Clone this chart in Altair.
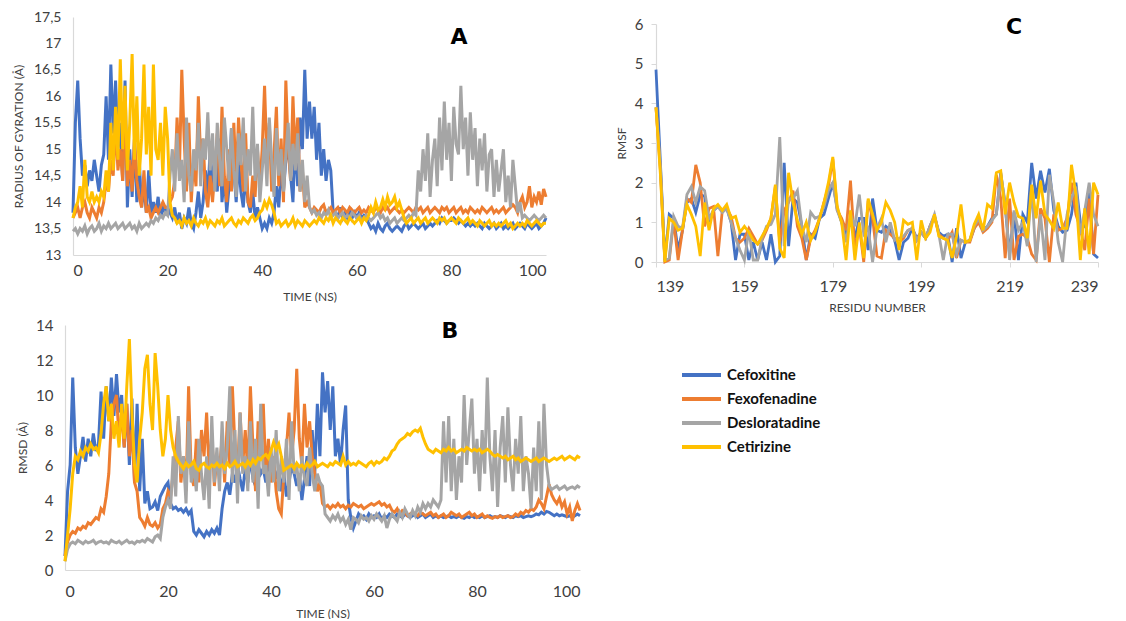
import altair as alt
import pandas as pd

DRUGS = ["Cefoxitine", "Fexofenadine", "Desloratadine", "Cetirizine"]
COLORS = ["#4472C4", "#ED7D31", "#A5A5A5", "#FFC000"]

# ---------------- Panel A : radius of gyration (0.5 ns step, 0..100 ns)
A_CEF = [13.8, 15.5, 16.3, 15.2, 14.5, 14.7, 14.3, 14.6, 14.4, 14.8, 14.5, 14.2, 14.7, 14.9, 16.0, 14.8, 16.6, 15.3, 16.3, 15.0,
         15.5, 14.4, 16.3, 13.9, 15.0, 14.1, 15.2, 14.0, 14.8, 13.9, 14.3, 13.8, 14.6, 13.8, 14.0, 13.8, 14.1, 13.7, 13.9, 13.8,
         13.9, 13.8, 13.7, 13.9, 13.6, 13.8, 13.5, 13.7, 13.6, 13.9, 13.6, 13.5, 13.8, 14.2, 13.7, 14.0, 14.6, 14.1, 15.0, 14.3,
         14.8, 14.2, 15.2, 14.0, 14.5, 13.8, 14.3, 15.4, 14.6, 14.0, 14.8, 14.2, 13.9, 14.5, 14.0, 13.8, 14.2, 13.7, 13.9, 13.7,
         13.5, 13.6, 13.5, 13.7, 13.6, 13.8, 14.3, 13.9, 14.6, 14.2, 14.8, 15.0, 14.5, 14.0, 15.2, 14.3, 15.6, 15.0, 16.5, 15.2,
         15.9, 15.2, 15.8, 14.8, 15.5, 14.5, 15.0, 14.4, 14.8, 14.6, 13.8, 13.8, 13.7, 13.9, 13.7, 13.8, 13.7, 13.9, 13.7, 13.8,
         13.7, 13.8, 13.7, 13.75, 13.7, 13.6, 13.5, 13.55, 13.45, 13.6, 13.5, 13.45, 13.55, 13.6, 13.5, 13.45, 13.5, 13.55, 13.5, 13.45,
         13.55, 13.6, 13.5, 13.55, 13.6, 13.55, 13.5, 13.55, 13.6, 13.5, 13.55, 13.6, 13.55, 13.6, 13.65, 13.6, 13.7, 13.65, 13.6, 13.65,
         13.65, 13.7, 13.65, 13.6, 13.65, 13.6, 13.55, 13.6, 13.55, 13.6, 13.55, 13.6, 13.55, 13.5, 13.6, 13.55, 13.5, 13.55, 13.6, 13.5,
         13.55, 13.6, 13.5, 13.55, 13.5, 13.55, 13.6, 13.5, 13.55, 13.6, 13.55, 13.5, 13.6, 13.55, 13.5, 13.55, 13.6, 13.5, 13.55, 13.6,
         13.7]
A_FEX = [13.7, 13.8, 13.9, 13.7, 13.9, 14.0, 13.8, 13.7, 13.9, 13.8, 13.7, 13.9, 13.8, 14.0, 14.4, 14.2, 14.8, 14.5, 15.5, 14.6,
         15.0, 14.4, 15.8, 14.3, 14.8, 14.2, 15.2, 14.4, 14.1, 13.9, 14.6, 13.8, 13.9, 13.7, 13.8, 13.9, 13.8, 13.9, 14.0, 13.9,
         13.9, 14.0, 14.1, 14.4, 15.6, 14.6, 16.5, 15.2, 14.2, 15.5, 14.0, 14.8, 14.3, 16.0, 14.8, 15.2, 14.2, 13.9, 14.5, 14.0,
         14.6, 15.3, 14.3, 15.8, 14.5, 14.0, 15.0, 14.2, 15.5, 14.4, 15.6, 14.8, 14.2, 15.3, 14.0, 13.9, 14.5, 14.1, 15.0, 14.3,
         15.0, 16.2, 14.8, 15.5, 14.2, 14.9, 15.8, 14.3, 15.2, 14.0, 16.3, 15.0, 14.4, 16.0, 14.8, 15.6, 14.2, 14.6, 13.9, 14.0,
         13.9, 13.8, 13.9, 13.85, 13.8, 13.9, 13.95, 13.8, 13.85, 13.9, 13.8, 13.85, 13.9, 13.8, 13.9, 13.85, 13.8, 13.9, 13.85, 13.8,
         13.85, 13.9, 13.8, 13.85, 13.8, 13.9, 13.85, 13.8, 13.9, 13.85, 13.8, 13.9, 13.85, 13.9, 13.8, 13.85, 13.9, 13.85, 13.8, 13.85,
         13.8, 13.85, 13.9, 13.85, 13.8, 13.9, 13.85, 13.9, 13.8, 13.85, 13.9, 13.8, 13.85, 13.9, 13.85, 13.8, 13.9, 13.85, 13.9, 13.8,
         13.85, 13.9, 13.8, 13.85, 13.9, 13.8, 13.85, 13.8, 13.9, 13.85, 13.8, 13.85, 13.8, 13.9, 13.85, 13.8, 13.85, 13.9, 13.8, 13.85,
         13.8, 13.85, 13.9, 13.8, 13.85, 13.9, 13.95, 13.9, 13.8, 14.0, 14.1, 13.9, 14.0, 14.3, 13.9, 14.1, 14.0, 14.2, 13.95, 14.25,
         14.1]
A_DES = [13.45, 13.5, 13.4, 13.5, 13.45, 13.55, 13.4, 13.5, 13.55, 13.45, 13.5, 13.6, 13.45, 13.55, 13.5, 13.6, 13.5, 13.55, 13.6, 13.5,
         13.55, 13.6, 13.5, 13.55, 13.6, 13.5, 13.55, 13.45, 13.6, 13.5, 13.55, 13.6, 13.55, 13.65, 13.6, 13.7, 13.65, 13.75, 13.7, 13.8,
         13.75, 14.5, 15.0, 14.2, 15.3, 14.4, 14.8, 14.0, 15.6, 14.5, 14.2, 15.0, 14.6, 15.5, 14.3, 15.2, 14.8, 15.7, 14.6, 15.3,
         14.2, 15.5, 14.8, 14.3, 15.6, 15.0, 14.4, 15.4, 14.6, 14.1, 15.3, 14.7, 15.6, 14.2, 15.0, 14.5, 15.8, 14.4, 15.1, 14.0,
         14.6, 15.2, 14.3, 15.6, 14.8, 14.1, 15.4, 14.5, 15.0, 14.2, 14.9, 15.5, 14.4, 15.1, 14.6, 15.3, 14.2, 14.8, 14.0, 14.5,
         13.9, 13.8, 13.85, 13.75, 13.8, 13.7, 13.8, 13.75, 13.85, 13.7, 13.75, 13.8, 13.7, 13.75, 13.8, 13.7, 13.75, 13.7, 13.8, 13.75,
         13.7, 13.75, 13.65, 13.7, 13.75, 13.7, 13.65, 13.7, 13.75, 13.8, 13.7, 13.75, 13.65, 13.7, 13.6, 13.65, 13.7, 13.6, 13.65, 13.7,
         13.65, 13.7, 13.75, 13.7, 13.8, 13.75, 14.6, 14.2, 15.0, 14.4, 15.3, 14.1, 14.8, 15.2, 14.3, 15.6, 14.6, 15.9, 14.8, 15.5,
         14.4, 15.8, 15.1, 14.9, 16.2, 15.0, 15.6, 14.5, 15.7, 14.8, 15.4, 14.3, 15.2, 14.6, 15.3, 14.2, 14.9, 15.0, 14.1, 14.8,
         14.2, 14.6, 15.0, 14.0, 14.5, 13.9, 14.8, 14.3, 13.8, 14.0, 13.7, 13.75, 13.7, 13.65, 13.7, 13.75, 13.7, 13.65, 13.7, 13.75,
         13.7]
A_CET = [13.7, 13.9, 14.0, 14.3, 13.9, 14.8, 14.1, 14.0, 14.2, 14.0, 14.1, 14.0, 14.2, 14.1, 14.6, 14.2, 15.5, 14.6, 15.8, 14.8,
         16.7, 15.0, 16.2, 14.6, 15.5, 16.8, 14.8, 16.0, 14.5, 15.2, 16.6, 14.9, 15.8, 14.5, 16.6, 15.0, 14.8, 15.5, 14.5, 15.8,
         15.2, 14.0, 13.75, 13.7, 13.6, 13.65, 13.55, 13.7, 13.6, 13.65, 13.55, 13.7, 13.6, 13.55, 13.65, 13.6, 13.7, 13.55, 13.65, 13.6,
         13.55, 13.65, 13.6, 13.7, 13.55, 13.6, 13.65, 13.7, 13.6, 13.55, 13.65, 13.6, 13.7, 13.65, 13.6, 13.7, 13.75, 13.65, 13.7, 13.8,
         13.85, 14.0, 13.9, 14.05, 13.95, 13.8, 13.6, 13.65, 13.55, 13.6, 13.65, 13.55, 13.6, 13.7, 13.55, 13.65, 13.6, 13.55, 13.65, 13.6,
         13.55, 13.6, 13.65, 13.6, 13.7, 13.65, 13.6, 13.7, 13.65, 13.75, 13.6, 13.7, 13.65, 13.6, 13.7, 13.65, 13.6, 13.7, 13.65, 13.6,
         13.65, 13.7, 13.6, 13.7, 13.65, 13.75, 13.9, 13.8, 14.0, 13.85, 13.9, 14.05, 13.9, 14.1, 13.95, 14.0, 14.1, 13.9, 14.0, 13.85,
         13.7, 13.6, 13.65, 13.7, 13.6, 13.65, 13.7, 13.6, 13.65, 13.7, 13.6, 13.65, 13.7, 13.65, 13.6, 13.7, 13.65, 13.7, 13.6, 13.65,
         13.7, 13.65, 13.6, 13.7, 13.65, 13.6, 13.65, 13.7, 13.6, 13.65, 13.6, 13.55, 13.65, 13.6, 13.55, 13.6, 13.65, 13.55, 13.6, 13.55,
         13.6, 13.55, 13.6, 13.65, 13.55, 13.6, 13.5, 13.55, 13.6, 13.55, 13.6, 13.55, 13.65, 13.6, 13.55, 13.6, 13.65, 13.6, 13.55, 13.6,
         13.6]

# ---------------- Panel B : RMSD (0.5 ns step, 0..100 ns)
B_CEF = [0.8, 4.5, 6.0, 11.0, 7.0, 5.5, 6.5, 7.6, 6.2, 7.5, 6.5, 7.8, 6.8, 7.2, 10.2, 7.5, 10.5, 8.5, 11.0, 8.8,
         11.2, 9.0, 10.0, 7.0, 9.5, 6.0, 9.8, 5.0, 9.5, 4.5, 7.5, 3.8, 4.5, 3.5, 3.6, 3.9, 3.4, 4.2, 4.5, 4.8,
         5.0, 3.8, 3.5, 3.6, 3.4, 3.5, 3.3, 3.5, 3.2, 3.4, 2.2, 2.0, 2.3, 2.1, 1.9, 2.2, 2.0, 2.3, 2.1, 2.4,
         2.0, 3.5, 4.5, 5.0, 4.3, 5.5, 5.0, 6.0, 5.2, 4.5, 5.8, 5.0, 6.5, 5.2, 4.8, 6.0, 5.5, 5.8, 5.0, 6.2,
         5.5, 6.0, 5.2, 5.8, 4.5, 5.5, 4.2, 5.0, 6.0, 5.5, 4.8, 5.5, 4.0, 5.2, 6.5, 4.8, 8.0, 5.5, 9.5, 6.5,
         11.3, 9.0, 10.8, 8.0, 10.5, 6.5, 7.5, 6.0, 8.0, 9.4, 4.0, 3.0, 2.4, 2.8, 3.2, 3.0, 3.1, 2.9, 3.2, 3.0,
         3.1, 3.0, 3.2, 2.9, 3.1, 3.0, 3.2, 3.1, 3.0, 3.2, 3.1, 3.0, 3.2, 3.1, 3.0, 3.1, 3.2, 3.0, 3.1, 3.2,
         3.0, 3.1, 3.2, 3.0, 3.1, 3.0, 3.1, 3.0, 3.05, 3.1, 3.0, 3.05, 3.0, 3.1, 3.0, 2.95, 3.05, 3.0, 3.1, 3.0,
         3.05, 3.0, 3.1, 3.0, 3.05, 3.1, 3.0, 3.05, 3.0, 3.1, 3.05, 3.0, 3.1, 3.05, 3.0, 3.1, 3.05, 3.1, 3.0, 3.05,
         3.1, 3.05, 3.1, 3.2, 3.15, 3.3, 3.2, 3.35, 3.3, 3.2, 3.1, 3.2, 3.1, 3.15, 3.1, 3.05, 3.1, 3.0, 3.1, 3.2,
         3.1]
B_FEX = [0.8, 1.6, 2.0, 2.2, 2.1, 2.4, 2.3, 2.5, 2.4, 2.7, 2.6, 2.8, 3.0, 2.9, 3.5, 3.3, 4.2, 5.5, 8.5, 9.5,
         10.0, 7.5, 9.0, 7.0, 9.5, 6.5, 8.0, 5.0, 4.5, 3.0, 2.8, 2.5, 3.0, 2.6, 2.5, 2.7, 2.4, 2.6, 3.5, 3.8,
         4.5, 4.2, 5.5, 7.0, 8.5, 5.0, 6.5, 4.5, 10.5, 5.5, 4.8, 7.5, 5.0, 8.0, 6.5, 9.0, 5.5, 7.8, 4.8, 6.5,
         5.8, 7.5, 5.0, 8.5, 6.0, 10.5, 7.0, 5.5, 9.0, 6.0, 8.0, 5.5, 10.5, 7.0, 4.5, 8.5, 6.5, 9.5, 5.5, 7.5,
         5.0, 6.5, 4.5, 3.5, 3.2, 5.5, 7.0, 9.0, 6.5, 8.0, 11.5, 7.5, 6.0, 9.5, 7.0, 8.5, 6.5, 5.5, 4.5, 5.0,
         3.8, 3.6, 3.7, 3.5, 3.7, 3.6, 3.8, 3.6, 3.7, 3.5, 3.7, 3.6, 3.8, 3.7, 3.6, 3.7, 3.5, 3.6, 3.7, 3.8,
         3.7, 3.8, 3.9, 3.7, 3.8, 3.6, 3.7, 3.4, 3.3, 3.5, 3.2, 3.4, 3.3, 3.1, 3.2, 3.3, 3.2, 3.1, 3.3, 3.2,
         3.1, 3.2, 3.3, 3.1, 3.2, 3.0, 3.1, 3.2, 3.0, 3.1, 3.3, 3.2, 3.1, 3.2, 3.0, 3.1, 3.2, 3.3, 3.1, 3.2,
         3.0, 3.1, 3.2, 3.0, 3.1, 3.0, 2.95, 3.05, 3.0, 3.1, 3.0, 3.05, 3.1, 3.0, 3.05, 3.2, 3.1, 3.3, 3.2, 3.4,
         3.3, 3.5, 3.4, 3.6, 4.0, 3.8, 3.5, 4.2, 4.9, 4.3, 4.0, 3.8, 4.1, 3.6, 3.9, 3.2, 3.6, 2.8, 3.4, 3.8,
         3.4]
B_DES = [0.5, 1.2, 1.5, 1.6, 1.5, 1.7, 1.6, 1.5, 1.65, 1.55, 1.6, 1.7, 1.5, 1.6, 1.65, 1.55, 1.6, 1.5, 1.7, 1.6,
         1.55, 1.65, 1.5, 1.6, 1.7, 1.55, 1.6, 1.5, 1.65, 1.6, 1.7, 1.6, 1.8, 1.7, 1.6, 1.9, 2.0, 1.8, 3.0, 3.6,
         4.0, 3.5, 6.5, 4.2, 8.8, 5.5, 6.5, 3.8, 8.5, 5.0, 6.0, 4.5, 7.5, 5.5, 4.0, 6.5, 3.5, 8.8, 5.0, 7.0,
         4.5, 8.5, 5.5, 7.0, 10.5, 5.0, 8.0, 3.8, 9.0, 5.5, 6.5, 4.5, 8.5, 5.0, 7.5, 3.5, 9.5, 5.5, 6.0, 4.2,
         7.0, 5.0, 8.0, 4.5, 6.5, 5.0, 7.5, 4.0, 8.5, 5.5, 6.0, 4.5, 6.5, 5.2, 4.8, 7.0, 5.5, 4.5, 5.5, 5.0,
         4.8, 3.2, 3.0, 2.8, 3.1, 2.9, 3.2, 2.8, 3.0, 2.6, 2.9, 2.3, 3.0, 2.9, 2.7, 3.1, 2.9, 3.0, 2.8, 3.1,
         2.9, 3.2, 3.0, 2.8, 3.1, 2.4, 2.9, 3.2, 3.0, 2.8, 3.3, 3.0, 3.5, 3.2, 3.0, 3.4, 3.1, 3.6, 3.3, 3.8,
         3.5, 3.8, 3.6, 4.0, 3.8, 3.6, 4.0, 8.5, 5.0, 8.8, 4.5, 7.5, 4.0, 6.5, 5.0, 10.0, 6.0, 8.0, 9.8, 5.5,
         7.5, 4.5, 8.0, 5.5, 11.0, 6.5, 4.5, 8.0, 3.6, 7.0, 8.8, 5.0, 9.3, 6.0, 4.5, 7.5, 5.5, 8.8, 4.5, 6.5,
         5.5, 3.5, 7.0, 4.5, 8.5, 4.0, 9.5, 6.0, 4.8, 4.6, 4.7, 4.8, 4.6, 4.7, 4.8, 4.6, 4.7, 4.75, 4.65, 4.8,
         4.7]
B_CET = [0.5, 2.0, 3.5, 5.5, 6.5, 6.3, 6.8, 6.5, 7.0, 6.8, 7.2, 6.9, 7.0, 6.7, 7.8, 9.5, 10.5, 8.5, 9.5, 7.5,
         8.5, 7.0, 9.5, 7.5, 10.5, 13.2, 9.0, 6.0, 5.0, 7.5, 9.0, 11.5, 12.3, 9.5, 8.0, 12.4, 10.5, 8.0, 6.5, 7.5,
         10.0, 8.0, 7.0, 6.5, 6.2, 6.0, 5.8, 6.1, 5.9, 6.0, 6.2, 5.8, 5.7, 6.0, 6.1, 5.9, 5.8, 6.0, 5.9, 6.1,
         5.9, 6.0, 5.8, 6.1, 5.9, 6.0, 6.2, 5.9, 6.0, 6.1, 5.9, 6.2, 6.0, 6.3, 6.1, 6.4, 6.3, 6.5, 6.6, 6.4,
         6.8, 7.3, 6.9, 7.2, 6.5, 5.7, 5.8, 5.9, 6.0, 5.8, 6.1, 5.9, 6.0, 5.8, 6.1, 5.9, 6.0, 6.2, 5.9, 6.0,
         6.1, 6.0, 5.9, 6.1, 6.0, 6.2, 6.1, 6.0, 6.5, 6.0, 6.2, 6.0, 6.1, 6.0, 6.2, 6.1, 6.0, 5.9, 6.1, 6.2,
         6.0, 6.2, 6.1, 6.2, 6.4, 6.3, 6.5, 6.8, 6.9, 7.2, 7.4, 7.5, 7.6, 7.8, 7.7, 7.9, 8.0, 7.9, 8.1, 7.6,
         7.2, 6.9, 6.8, 6.7, 6.9, 6.8, 6.7, 6.9, 6.8, 7.0, 6.8, 6.9, 6.7, 6.8, 6.9, 6.8, 7.0, 6.9, 6.8, 6.9,
         6.8, 6.9, 6.7, 6.8, 6.9, 6.8, 6.6, 6.5, 6.6, 6.5, 6.4, 6.5, 6.3, 6.4, 6.5, 6.3, 6.4, 6.2, 6.3, 6.4,
         6.3, 6.2, 6.3, 6.4, 6.2, 6.3, 6.4, 6.3, 6.2, 6.3, 6.4, 6.3, 6.4, 6.5, 6.3, 6.4, 6.5, 6.4, 6.3, 6.5,
         6.4]

# ---------------- Panel C : RMSF per residue 139..239
RESIDUES = list(range(139, 240))
C_CEF = [4.85, 2.5, 0.05, 1.2, 1.1, 0.3, 0.8, 1.5, 1.6, 1.25, 1.7, 1.65, 1.0, 1.3, 1.4, 1.3, 1.35, 1.0, 0.05, 0.7,
         0.7, 0.05, 0.5, 0.05, 0.5, 0.05, 0.7, 0.0, 0.15, 2.5, 0.4, 1.6, 1.5, 0.9, 0.05, 0.7, 0.6, 1.1, 1.2, 1.6,
         2.0, 1.35, 1.0, 0.7, 1.1, 0.6, 1.1, 1.1, 0.3, 1.6, 0.8, 0.75, 0.9, 0.8, 0.55, 0.05, 0.5, 0.6, 0.85, 0.6,
         0.75, 0.6, 0.9, 1.15, 0.75, 0.65, 0.7, 0.0, 0.85, 0.1, 0.5, 0.55, 0.85, 1.1, 0.8, 0.9, 1.1, 1.2, 2.25, 1.4,
         0.2, 1.25, 0.05, 1.2, 1.0, 2.5, 1.6, 2.3, 1.75, 2.35, 1.3, 0.9, 0.75, 0.8, 1.2, 2.0, 1.0, 0.9, 1.8, 0.2,
         0.1]
C_FEX = [3.9, 2.3, 0.0, 0.05, 1.05, 0.05, 0.8, 1.6, 1.5, 2.45, 2.0, 0.9, 1.35, 1.4, 0.15, 1.3, 1.35, 1.15, 0.6, 0.5,
         0.6, 0.85, 0.65, 0.45, 0.55, 0.8, 1.1, 1.9, 0.5, 1.3, 1.5, 1.8, 0.9, 0.6, 0.05, 0.6, 0.8, 1.1, 1.5, 1.9,
         2.6, 1.3, 1.1, 0.8, 2.05, 0.3, 0.9, 0.0, 1.55, 1.1, 0.15, 0.1, 0.8, 0.7, 0.6, 0.5, 0.6, 0.8, 0.85, 0.55,
         0.75, 0.6, 0.9, 1.15, 0.7, 0.6, 0.55, 0.75, 0.1, 0.55, 0.5, 0.5, 0.85, 1.0, 0.75, 0.85, 1.0, 2.2, 1.6, 0.1,
         1.6, 0.05, 0.65, 0.7, 0.6, 0.2, 0.05, 1.35, 1.1, 0.0, 1.2, 0.8, 0.85, 1.1, 2.0, 1.2, 0.85, 0.3, 1.6, 0.2,
         1.7]
C_DES = [3.9, 2.4, 0.05, 0.1, 1.15, 0.9, 0.85, 1.7, 1.9, 1.5, 1.9, 1.8, 1.1, 1.3, 1.4, 1.25, 1.35, 1.0, 0.6, 0.3,
         0.05, 0.8, 0.05, 0.05, 0.6, 0.9, 0.95, 1.2, 3.15, 0.4, 1.6, 1.6, 1.8, 0.9, 0.5, 1.25, 1.1, 1.15, 1.4, 1.8,
         2.0, 1.3, 1.0, 0.5, 1.2, 0.9, 1.7, 0.7, 0.85, 0.0, 0.85, 1.1, 0.5, 1.0, 0.55, 0.6, 0.65, 0.8, 0.85, 0.55,
         0.75, 0.6, 0.9, 1.2, 0.7, 0.05, 0.7, 0.7, 0.2, 0.55, 0.5, 0.55, 0.9, 1.1, 0.8, 0.9, 1.05, 1.2, 2.2, 1.5,
         0.05, 1.3, 0.8, 1.0, 0.4, 1.9, 0.0, 1.2, 0.05, 2.2, 1.5, 0.5, 0.0, 1.2, 1.6, 1.9, 0.7, 1.3, 2.0, 1.2,
         0.9]
C_CET = [3.9, 2.2, 0.0, 1.1, 1.0, 0.8, 0.85, 1.45, 1.2, 0.9, 0.15, 1.5, 0.8, 1.35, 1.45, 1.3, 1.45, 1.1, 1.15, 0.75,
         0.9, 0.75, 0.55, 0.45, 0.65, 0.85, 1.1, 1.95, 0.35, 0.1, 2.25, 1.5, 1.05, 0.7, 1.0, 0.55, 0.75, 1.1, 1.5, 2.0,
         2.65, 1.4, 1.0, 0.05, 1.3, 0.05, 1.0, 0.1, 1.6, 1.2, 0.8, 1.0, 1.5, 1.3, 1.0, 0.3, 1.05, 0.95, 1.0, 0.05,
         1.05, 0.6, 0.75, 1.2, 0.65, 0.6, 0.55, 0.1, 0.65, 1.45, 0.5, 0.55, 0.95, 1.2, 0.8, 1.45, 1.35, 2.25, 2.3, 1.2,
         2.0, 1.5, 1.15, 1.1, 0.6, 1.95, 1.1, 2.05, 1.2, 1.05, 0.85, 1.5, 0.85, 0.85, 2.45, 1.7, 0.05, 1.35, 0.2, 2.0,
         1.7]

A_TICKS = [13, 13.5, 14, 14.5, 15, 15.5, 16, 16.5, 17, 17.5]
B_TICKS = [0, 2, 4, 6, 8, 10, 12, 14]
C_TICKS = [0, 1, 2, 3, 4, 5, 6]
TIME_TICKS = [0, 20, 40, 60, 80, 100]
RES_TICKS = [139, 159, 179, 199, 219, 239]


def time_frame(series):
    rows = []
    for k, (drug, vals) in enumerate(zip(DRUGS, series)):
        for i, v in enumerate(vals):
            rows.append({"x": i * 0.5, "v": v, "drug": drug, "k": k})
    return pd.DataFrame(rows)


def res_frame(series):
    rows = []
    for k, (drug, vals) in enumerate(zip(DRUGS, series)):
        for r, v in zip(RESIDUES, vals):
            rows.append({"x": r, "v": v, "drug": drug, "k": k})
    return pd.DataFrame(rows)


COLOR = alt.Color("drug:N", scale=alt.Scale(domain=DRUGS, range=COLORS), legend=None)


def panel_label(text, px, py):
    return alt.Chart(pd.DataFrame({"t": [text]})).mark_text(
        font="DejaVu Sans", fontWeight="bold", fontSize=22, color="#000000"
    ).encode(text="t:N", x=alt.value(px), y=alt.value(py))


# ---------- A  (plot area starts 8px left of the drawn axis so that B can sit further left)
dfA = time_frame([A_CEF, A_FEX, A_DES, A_CET])
lineA = alt.Chart(dfA).mark_line(strokeWidth=3).encode(
    x=alt.X("x:Q", scale=alt.Scale(domain=[0, 100], nice=False, range=[8, 481]),
            axis=alt.Axis(values=TIME_TICKS, title="TIME (NS)", labelFontSize=16,
                          labelPadding=7, titlePadding=13, ticks=False)),
    y=alt.Y("v:Q", scale=alt.Scale(domain=[13, 17.5], nice=False, zero=False),
            axis=alt.Axis(values=A_TICKS, title="RADIUS OF GYRATION (Å)",
                          labelExpr="replace(toString(datum.value), '.', ',')",
                          labelFontSize=14, labelPadding=12, titlePadding=8, ticks=False,
                          offset=-8)),
    color=COLOR,
    detail="k:O",
)
chartA = alt.layer(lineA, panel_label("A", 394, 20)).properties(width=481, height=238)

# ---------- B
dfB = time_frame([B_CEF, B_FEX, B_DES, B_CET])
lineB = alt.Chart(dfB).mark_line(strokeWidth=3).encode(
    x=alt.X("x:Q", scale=alt.Scale(domain=[0, 100], nice=False),
            axis=alt.Axis(values=TIME_TICKS, title="TIME (NS)", labelFontSize=16,
                          labelPadding=13, titlePadding=9, ticks=False)),
    y=alt.Y("v:Q", scale=alt.Scale(domain=[0, 14], nice=False),
            axis=alt.Axis(values=B_TICKS, title="RMSD (Å)", labelFontSize=15,
                          labelPadding=12, titlePadding=6, ticks=False)),
    color=COLOR,
    detail="k:O",
)
chartB = alt.layer(lineB, panel_label("B", 385, 6)).properties(width=515, height=245)

# ---------- C  (data range starts 7px below the plot top)
dfC = res_frame([C_CEF, C_FEX, C_DES, C_CET])
lineC = alt.Chart(dfC).mark_line(strokeWidth=2.8).encode(
    x=alt.X("x:Q", scale=alt.Scale(domain=[139, 239], nice=False, zero=False),
            axis=alt.Axis(values=RES_TICKS, title="RESIDU NUMBER", labelFontSize=16,
                          labelPadding=11, titlePadding=8, ticks=True, tickSize=5,
                          tickColor="#D9D9D9")),
    y=alt.Y("v:Q", scale=alt.Scale(domain=[0, 6], nice=False, range=[245, 7]),
            axis=alt.Axis(values=C_TICKS, title="RMSF", labelFontSize=15,
                          labelPadding=8, titlePadding=6, ticks=True, tickSize=5,
                          tickColor="#D9D9D9")),
    color=COLOR,
    detail="k:O",
)
chartC = alt.layer(lineC, panel_label("C", 358, 10)).properties(width=442, height=245)

# ---------- legend (drawn from the same colour scale)
dfL = pd.DataFrame({"drug": DRUGS})
LEG_Y = alt.Y("drug:N", scale=alt.Scale(type="point", domain=DRUGS, padding=0.5), axis=None)
legSym = alt.Chart(dfL).mark_rule(strokeWidth=4).encode(
    y=LEG_Y, x=alt.value(26), x2=alt.value(65), color=COLOR)
legTxt = alt.Chart(dfL).mark_text(align="left", baseline="middle", font="Lato",
                                  fontSize=15, fontWeight="bold", color="#111111").encode(
    y=LEG_Y, x=alt.value(71), text="drug:N")
legend = alt.layer(legSym, legTxt).properties(width=250, height=96)

left = alt.vconcat(chartA, chartB, spacing=16)
right = alt.vconcat(chartC, legend, spacing=50)
chart = alt.hconcat(left, right, spacing=29,
                    padding={"left": 4, "top": 2, "right": 0, "bottom": 0}).configure_axis(
    labelFont="Lato", titleFont="Lato", titleFontWeight="normal", titleFontSize=12,
    labelColor="#404040", titleColor="#404040", grid=False,
    domainColor="#D9D9D9", domainWidth=1.2
).configure_view(stroke=None)

chart.save("out.html", embed_options={"renderer": "svg", "actions": False})
